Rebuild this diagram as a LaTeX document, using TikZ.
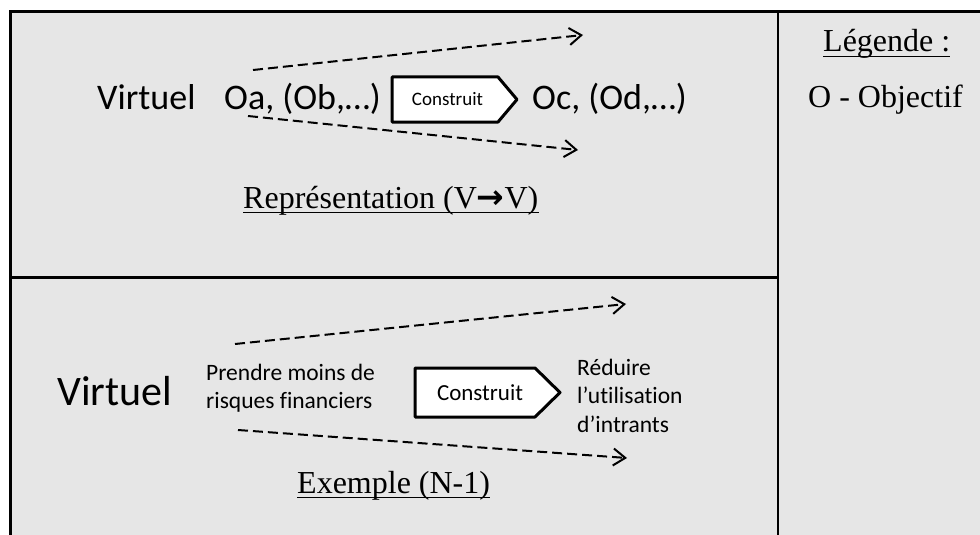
\documentclass[tikz,border=0pt]{standalone}
\usepackage{fontspec}
\setmainfont{Liberation Serif}
\newfontfamily\calib[Ligatures=NoCommon]{Carlito}
\newfontfamily\arrowfont{DejaVu Sans}
\usetikzlibrary{arrows.meta}
\definecolor{panel}{HTML}{E6E6E6}
\begin{document}
\begin{tikzpicture}[x=1pt,y=-1pt,
  txt/.style={inner sep=0pt, anchor=base west},
  bigsans/.style={txt, font=\calib\fontsize{36}{43}\selectfont},
  hugesans/.style={txt, font=\calib\fontsize{42}{50}\selectfont},
  smallsans/.style={txt, font=\calib\fontsize{23.5}{28}\selectfont},
  serif/.style={txt, font=\fontsize{32}{38}\selectfont},
  ulin/.style={line width=1.4pt},
  dasharrow/.style={line width=2pt, dash pattern=on 10pt off 5pt, -{Straight Barb[length=12pt,width=17pt,line width=2pt]}},
  signalbox/.style={draw, fill=white, line width=3pt, line join=round},
  boxtxt/.style={inner sep=0pt, anchor=base}
]
\useasboundingbox (0,0) rectangle (980,535);
% panels
\fill[panel] (10,11.5) rectangle (980,535);
\draw[line width=3pt] (10,535) -- (10,11.5) -- (980,11.5);
\draw[line width=2.5pt] (778,11.5) -- (778,535);
\draw[line width=3pt] (10,277) -- (778,277);

% ---------- top panel ----------
\node[bigsans] (v1) at (97,110) {Virtuel};
\node[bigsans] (oa) at (224,110) {Oa, (Ob,…)};
\node[bigsans] (oc) at (532,110) {Oc, (Od,…)};
\draw[signalbox] (392,77) -- (498,77) -- (517,99.5) -- (498,122) -- (392,122) -- cycle;
\node[boxtxt, font=\calib\fontsize{19}{23}\selectfont] (c1) at (447.5,105) {Construit};

\coordinate (a1s) at (253,70);  \coordinate (a1e) at (583,35);
\coordinate (a2s) at (248,116); \coordinate (a2e) at (578,150);
\draw[dasharrow] (a1s) -- (a1e);
\draw[dasharrow] (a2s) -- (a2e);

\node[serif] (rep) at (243,208) {Représentation (V{\arrowfont\bfseries\fontsize{33}{38}\selectfont →}V)};
\draw[ulin] ([yshift=-4.5pt]rep.base west) -- ([yshift=-4.5pt]rep.base east);

% ---------- legend ----------
\node[serif] (leg) at (823,52) {Légende :};
\draw[ulin] ([yshift=-4.5pt]leg.base west) -- ([yshift=-4.5pt]leg.base east);
\node[serif] (obj) at (808,107) {O - Objectif};

% ---------- bottom panel ----------
\node[hugesans] (v2) at (57,405) {Virtuel};
\node[smallsans] (p1) at (206,380) {Prendre moins de};
\node[smallsans] (p2) at (206,408) {risques financiers};
\draw[signalbox] (415,368) -- (535,368) -- (560,392.5) -- (535,417) -- (415,417) -- cycle;
\node[boxtxt, font=\calib\fontsize{23}{28}\selectfont] (c2) at (480,400) {Construit};
\node[smallsans] (r1) at (577,375) {Réduire};
\node[smallsans] (r2) at (577,403) {l’utilisation};
\node[smallsans] (r3) at (577,432) {d’intrants};

\coordinate (b1s) at (235,344); \coordinate (b1e) at (626,304);
\coordinate (b2s) at (238,430); \coordinate (b2e) at (627,458);
\draw[dasharrow] (b1s) -- (b1e);
\draw[dasharrow] (b2s) -- (b2e);

\node[serif] (ex) at (297,493) {Exemple (N-1)};
\draw[ulin] ([yshift=-4.5pt]ex.base west) -- ([yshift=-4.5pt]ex.base east);
\end{tikzpicture}
\end{document}
